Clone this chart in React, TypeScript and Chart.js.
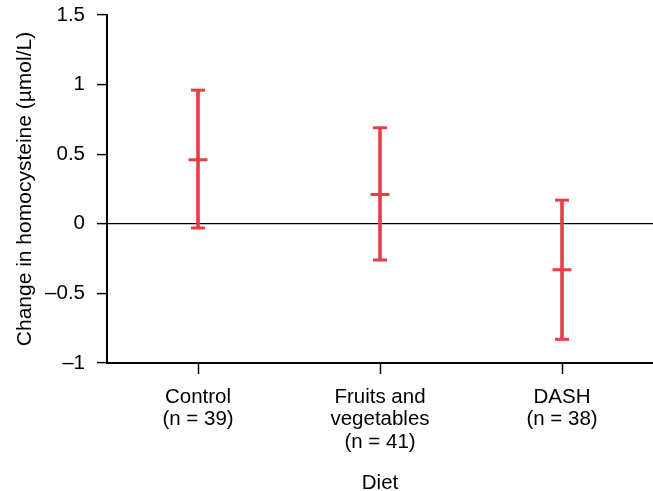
import React, { useEffect, useRef } from "react";
import { Chart, registerables } from "chart.js";

Chart.register(...registerables);

const categories: string[][] = [
  ["Control", "(n = 39)"],
  ["Fruits and", "vegetables", "(n = 41)"],
  ["DASH", "(n = 38)"],
];
const means = [0.46, 0.21, -0.33];
const upper = [0.96, 0.69, 0.17];
const lower = [-0.03, -0.26, -0.83];
const yTicks = [-1, -0.5, 0, 0.5, 1, 1.5];
const yTickLabels = ["\u20131", "\u20130.5", "0", "0.5", "1", "1.5"];
const yTitle = "Change in homocysteine (\u00b5mol/L)";
const xTitle = "Diet";

const RED = "rgb(232, 62, 72)";
const FONT = "'Liberation Sans', Arial, Helvetica, sans-serif";

export default function App() {
  const ref = useRef<HTMLCanvasElement | null>(null);

  useEffect(() => {
    if (!ref.current) return;
    const pointSet = (data: number[], radius: number) =>
      ({
        type: "line",
        data,
        showLine: false,
        pointStyle: "line",
        pointRadius: radius,
        pointBorderWidth: 3,
        pointBorderColor: RED,
        pointBackgroundColor: RED,
      } as any);
    const chart = new Chart(ref.current, {
      type: "bar",
      data: {
        labels: categories as any,
        datasets: [
          {
            type: "bar",
            data: lower.map((l, i) => [l, upper[i]]) as any,
            backgroundColor: RED,
            borderWidth: 0,
            barThickness: 3,
          } as any,
          pointSet(upper, 7),
          pointSet(lower, 7),
          pointSet(means, 9.5),
        ],
      },
      options: {
        responsive: false,
        animation: false,
        layout: { autoPadding: false, padding: { top: 15, left: 0, right: 0, bottom: 0 } },
        plugins: {
          legend: { display: false },
          tooltip: { enabled: false },
        },
        scales: {
          x: {
            type: "category",
            offset: true,
            grid: {
              display: true,
              offset: false,
              drawOnChartArea: false,
              drawTicks: true,
              tickLength: 11,
              tickColor: "#000",
              tickWidth: 1.5,
            },
            border: { display: true, color: "#000", width: 2 },
            ticks: {
              color: "#000",
              padding: 12,
              maxRotation: 0,
              autoSkip: false,
              font: { family: FONT, size: 20.5, lineHeight: 1.1 },
            },
            title: {
              display: true,
              text: xTitle,
              color: "#000",
              padding: { top: 0, bottom: 0 },
              font: { family: FONT, size: 20.5, lineHeight: 0.7 },
            },
            afterFit: (scale: any) => {
              scale.height = 128;
              scale.paddingLeft = 0;
              scale.paddingRight = 0;
            },
          },
          y: {
            type: "linear",
            min: -1,
            max: 1.5,
            afterBuildTicks: (scale: any) => {
              scale.ticks = yTicks.map((v) => ({ value: v }));
            },
            grid: {
              display: true,
              drawOnChartArea: true,
              drawTicks: true,
              tickLength: 10,
              tickColor: "#000",
              tickWidth: 1.5,
              lineWidth: 1.2,
              color: (ctx: any) =>
                ctx.tick && ctx.tick.value === 0 ? "#000" : "rgba(0,0,0,0)",
            },
            border: { display: true, color: "#000", width: 2 },
            ticks: {
              color: "#000",
              padding: 12,
              font: { family: FONT, size: 20.5 },
              callback: (v: any) => {
                const i = yTicks.indexOf(Number(v));
                return i >= 0 ? yTickLabels[i] : "";
              },
            },
            title: {
              display: true,
              text: yTitle,
              color: "#000",
              padding: { top: 13, bottom: 0 },
              font: { family: FONT, size: 21, lineHeight: 1.2 },
            },
            afterFit: (scale: any) => {
              scale.width = 107;
              scale.paddingTop = 0;
              scale.paddingBottom = 0;
            },
          },
        },
      } as any,
    });
    return () => chart.destroy();
  }, []);

  return (
    <div style={{ position: "absolute", left: 0, top: 0, width: 653, height: 491, background: "#fff" }}>
      <canvas ref={ref} width={653} height={491} style={{ display: "block" }} />
    </div>
  );
}
